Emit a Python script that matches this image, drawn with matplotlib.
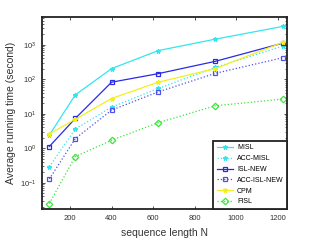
import matplotlib
matplotlib.use("Agg")
import matplotlib.pyplot as plt
from matplotlib.ticker import LogLocator, NullFormatter

plt.rcParams['font.family'] = ['Liberation Sans', 'DejaVu Sans']

N = [100, 225, 400, 625, 900, 1225]
misl = [2.4, 35, 203, 675, 1450, 3380]
acc_misl = [0.29, 3.6, 15.5, 54, 220, 915]
isl_new = [1.12, 7.3, 82, 145, 330, 1110]
acc_isl_new = [0.128, 1.9, 12.7, 43, 148, 420]
cpm = [2.6, 6.9, 27.6, 82, 203, 1170]
fisl = [0.025, 0.575, 1.7, 5.5, 17, 26.5]

labels = ["MISL", "ACC-MISL", "ISL-NEW", "ACC-ISL-NEW", "CPM", "FISL"]
series = [misl, acc_misl, isl_new, acc_isl_new, cpm, fisl]
colors = ["#33e6ee", "#33e6ee", "#2a2ae6", "#5050ee", "#f2f01a", "#3ae63a"]
styles = ["-", ":", "-", ":", "-", ":"]
markers = ["*", "*", "s", "s", "*", "D"]

fig = plt.figure(figsize=(3.21, 2.41), dpi=100)
ax = fig.add_axes([0.131, 0.133, 0.763, 0.796])
for y, lab, c, ls, m in zip(series, labels, colors, styles, markers):
    ax.plot(N, y, linestyle=ls, color=c, marker=m, markersize=3.3,
            markerfacecolor=c if m in ("*",) else "none", markeredgewidth=0.9,
            linewidth=0.9, label=lab)
ax.set_yscale("log")
ax.set_xlim(65, 1245)
ax.set_ylim(0.0174, 6300)
ax.set_xticks([200, 400, 600, 800, 1000, 1200])
ax.yaxis.set_major_locator(LogLocator(base=10, numticks=10))
ax.yaxis.set_minor_locator(LogLocator(base=10, subs=range(2, 10), numticks=20))
ax.yaxis.set_minor_formatter(NullFormatter())
ax.tick_params(which="both", direction="in", top=True, right=True, labelsize=5.5, colors="#333333")
ax.tick_params(which="major", length=2.5, width=0.6, pad=4)
ax.tick_params(which="minor", length=1.5, width=0.5)
for s in ax.spines.values():
    s.set_linewidth(1.3)
    s.set_color("#222222")
ax.set_xlabel("sequence length N", fontsize=7.5, color="#333333", labelpad=5)
ax.set_ylabel("Average running time (second)", fontsize=7.5, color="#333333", labelpad=3)
leg = ax.legend(loc="lower right", fontsize=5, borderaxespad=0, fancybox=False,
                framealpha=1, handlelength=2.4, labelspacing=0.55, borderpad=0.5,
                handletextpad=0.5)
leg.get_frame().set_edgecolor("#222222")
leg.get_frame().set_linewidth(1.3)
fig.savefig("out.png", dpi=100)
